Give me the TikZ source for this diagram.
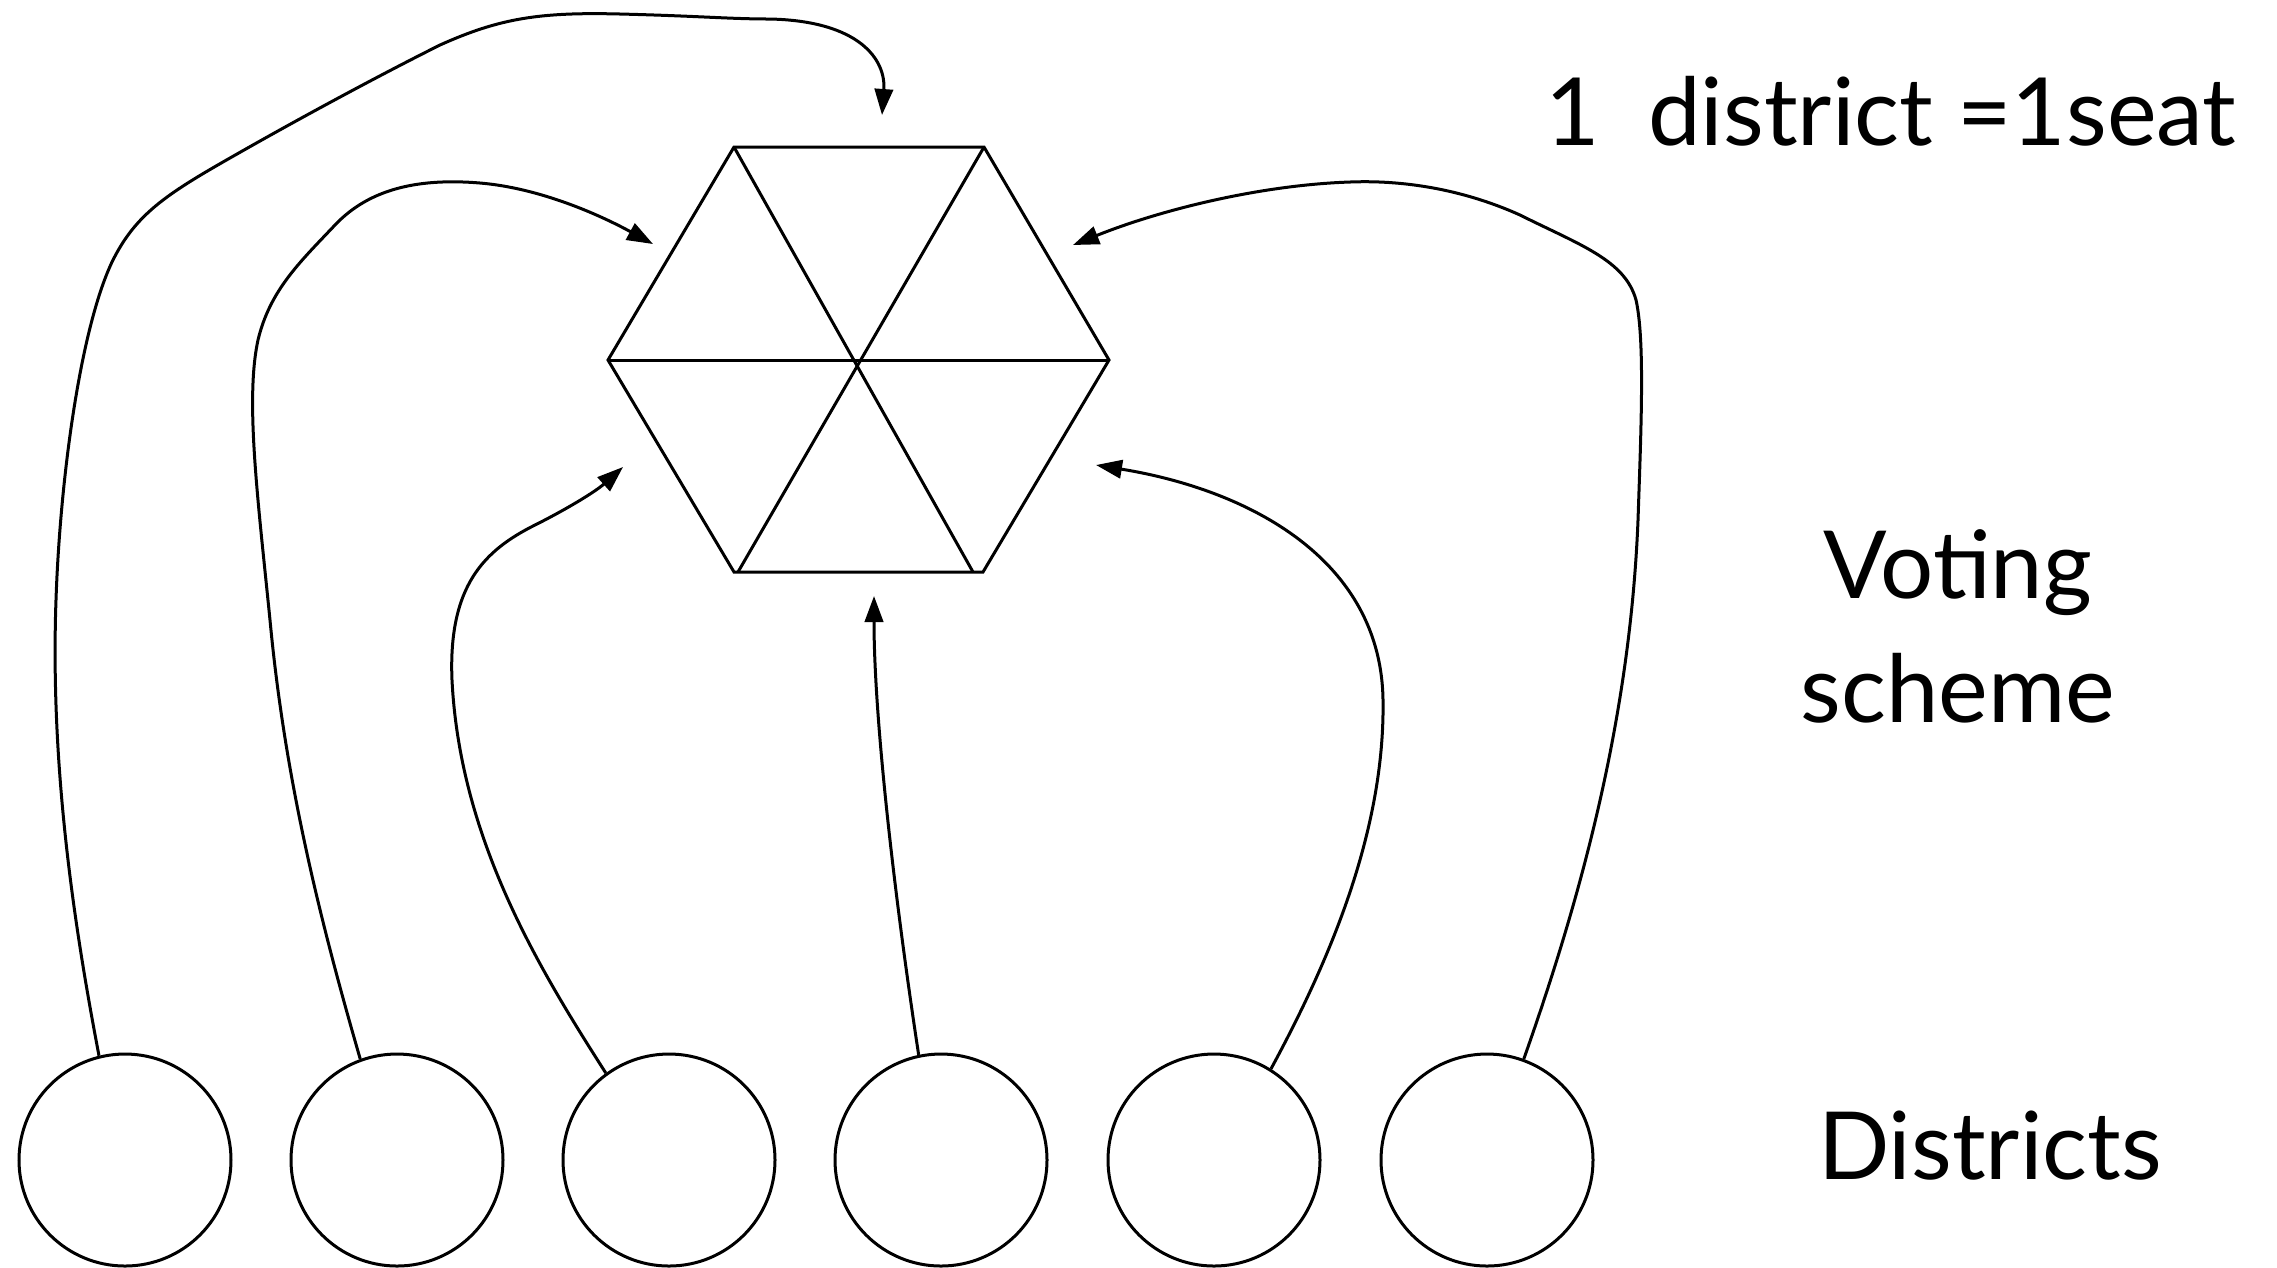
\documentclass[tikz,border=0pt]{standalone}
\usepackage{fontspec}
\setmainfont{Lato}
\usetikzlibrary{arrows.meta}
\begin{document}
\begin{tikzpicture}[x=0.25pt,y=-0.25pt,line width=0.75pt,
  district/.style={circle,draw,line width=0.75pt,inner sep=0pt,minimum size=53pt},
  link/.style={line width=0.75pt,-{Triangle[length=6.5pt,width=4.6pt]}},
  label/.style={font=\fontsize{23.5}{31}\selectfont,anchor=base,align=center,inner sep=0pt}]
\useasboundingbox (0,0) rectangle (2277,1267);

% districts
\node[district] (c1) at (125,1160) {};
\node[district] (c2) at (397,1160) {};
\node[district] (c3) at (669,1160) {};
\node[district] (c4) at (941,1160) {};
\node[district] (c5) at (1214,1160) {};
\node[district] (c6) at (1487,1160) {};

% hexagon (voting scheme)
\coordinate (h1) at (734,147);
\coordinate (h2) at (984,147);
\coordinate (h3) at (1109,360);
\coordinate (h4) at (983,572);
\coordinate (h5) at (734,572);
\coordinate (h6) at (608,360);
\coordinate (d1) at (973,572);
\coordinate (d2) at (738,572);
\draw[line join=miter] (h1) -- (h2) -- (h3) -- (h4) -- (h5) -- (h6) -- cycle;
\draw (h1) -- (d1);
\draw (h2) -- (d2);
\draw (h6) -- (h3);

% arrow tips
\coordinate (t1) at (882,115);
\coordinate (t2) at (653,244);
\coordinate (t3) at (623,467);
\coordinate (t4) at (874,596);
\coordinate (t5) at (1096,465);
\coordinate (t6) at (1073,245);

% connectors
\draw[link] (c1.104) .. controls (75,930) and (50,770) .. (56,600)
  .. controls (60,480) and (80,330) .. (112,262)
  .. controls (135,215) and (165,195) .. (230,158)
  .. controls (300,118) and (380,75) .. (440,45)
  .. controls (500,18) and (540,12) .. (620,14)
  .. controls (700,16) and (730,19) .. (770,19)
  .. controls (860,21) and (886,60) .. (t1);
\draw[link] (c2.110) .. controls (320,920) and (285,780) .. (270,620)
  .. controls (258,500) and (245,400) .. (258,340)
  .. controls (270,290) and (300,262) .. (335,225)
  .. controls (370,188) and (420,178) .. (480,183)
  .. controls (540,188) and (600,215) .. (t2);
\draw[link] (c3.126) .. controls (540,970) and (460,840) .. (452,680)
  .. controls (448,585) and (485,550) .. (535,525)
  .. controls (565,510) and (595,492) .. (t3);
\draw[link] (c4.102) .. controls (895,900) and (874,720) .. (t4);
\draw[link] (c5.58) .. controls (1330,960) and (1385,830) .. (1383,700)
  .. controls (1381,560) and (1250,490) .. (t5);
\draw[link] (c6.70) .. controls (1580,900) and (1630,720) .. (1638,520)
  .. controls (1641,430) and (1645,340) .. (1636,300)
  .. controls (1625,260) and (1580,245) .. (1520,215)
  .. controls (1460,188) and (1400,180) .. (1350,182)
  .. controls (1260,185) and (1160,210) .. (t6);

% labels
\node[label] (seat) at (1891,145) {1\ \ district =1seat};
\node[label] (vote) at (1958,722) {Voting\\scheme};
\node[label] (dist) at (1990,1179) {Districts};
\end{tikzpicture}
\end{document}
